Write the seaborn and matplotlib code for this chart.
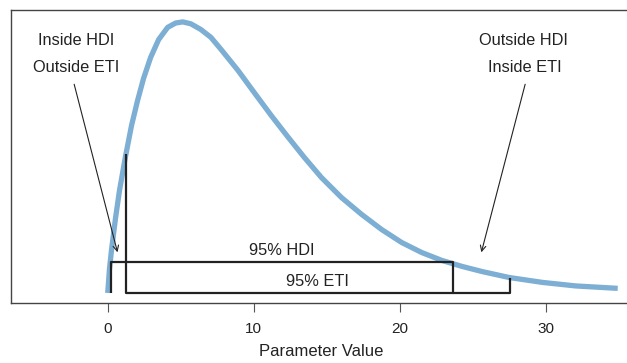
import matplotlib
matplotlib.use("Agg")
import matplotlib.pyplot as plt
import seaborn as sns
import pandas as pd

# Density curve (peak scaled to 1)
param_x = [0.0, 0.117, 0.255, 0.530, 0.805, 1.218, 1.631, 2.044, 2.457, 2.939,
           3.489, 4.109, 4.659, 5.141, 5.692, 6.380, 7.068, 7.756, 8.926, 10.028,
           11.198, 12.368, 13.469, 14.639, 16.015, 17.392, 18.768, 20.145, 21.521,
           22.898, 24.274, 25.651, 27.509, 29.780, 32.051, 34.941]
density = [0.0, 0.087, 0.157, 0.275, 0.378, 0.504, 0.618, 0.710, 0.792, 0.869,
           0.935, 0.980, 0.996, 1.0, 0.993, 0.972, 0.943, 0.899, 0.821, 0.740,
           0.655, 0.574, 0.500, 0.426, 0.352, 0.290, 0.234, 0.186, 0.149,
           0.120, 0.098, 0.079, 0.057, 0.039, 0.026, 0.017]

hdi_bounds = [0.22, 23.65]
hdi_height = 0.1125
eti_bounds = [1.22, 27.58]
eti_heights = [0.511, 0.057]

x_ticks = [0, 10, 20, 30]
x_label = "Parameter Value"

sns.set_style("white")
plt.rcParams['font.family'] = ['Liberation Sans', 'DejaVu Sans']

fig = plt.figure(figsize=(6.27, 3.63), dpi=100)
ax = fig.add_axes([0.0175, 0.1653, 0.99, 0.8072])

df = pd.DataFrame({"x": param_x, "y": density})
sns.lineplot(data=df, x="x", y="y", ax=ax, color="#7DAED3", linewidth=3.8,
             solid_capstyle="butt", solid_joinstyle="round")

box_kw = dict(color="#222222", linewidth=1.6, solid_capstyle="butt")
# HDI: verticals from 0 to height, horizontal at height
ax.plot([hdi_bounds[0], hdi_bounds[0], hdi_bounds[1], hdi_bounds[1]],
        [0.0, hdi_height, hdi_height, 0.0], **box_kw)
# ETI: verticals from curve to 0, horizontal at 0
ax.plot([eti_bounds[0], eti_bounds[0], eti_bounds[1], eti_bounds[1]],
        [eti_heights[0], 0.0, 0.0, eti_heights[1]], **box_kw)

fs = 11.8
tc = "#222222"
ax.text(11.9, 0.155, "95% HDI", ha="center", va="center", fontsize=fs, color=tc)
ax.text(14.4, 0.044, "95% ETI", ha="center", va="center", fontsize=fs, color=tc)

ax.text(-2.2, 0.93, "Inside HDI", ha="center", va="center", fontsize=fs, color=tc)
ax.text(-2.2, 0.83, "Outside ETI", ha="center", va="center", fontsize=fs, color=tc)
ax.text(28.5, 0.93, "Outside HDI", ha="center", va="center", fontsize=fs, color=tc)
ax.text(28.6, 0.83, "Inside ETI", ha="center", va="center", fontsize=fs, color=tc)

arrow_kw = dict(arrowstyle="->", color="#222222", lw=0.8, mutation_scale=10,
                shrinkA=0, shrinkB=0)
ax.annotate("", xy=(0.67, 0.15), xytext=(-2.3, 0.77), arrowprops=arrow_kw)
ax.annotate("", xy=(25.6, 0.15), xytext=(28.6, 0.77), arrowprops=arrow_kw)

ax.set_xlim(-6.63, 35.9)
ax.set_ylim(-0.037, 1.044)
ax.set_xticks(x_ticks)
ax.set_xticklabels([str(t) for t in x_ticks], fontsize=11, color=tc)
ax.set_yticks([])
ax.set_xlabel(x_label, fontsize=12, color=tc, labelpad=6)
ax.set_ylabel("")
ax.tick_params(axis="x", direction="out", length=6.5, width=0.8, color="#555555",
               pad=7, bottom=True)
for side in ["left", "top", "bottom"]:
    ax.spines[side].set_visible(True)
    ax.spines[side].set_color("#444444")
    ax.spines[side].set_linewidth(1.0)
ax.spines["right"].set_visible(False)

fig.savefig("out.png", dpi=100)
